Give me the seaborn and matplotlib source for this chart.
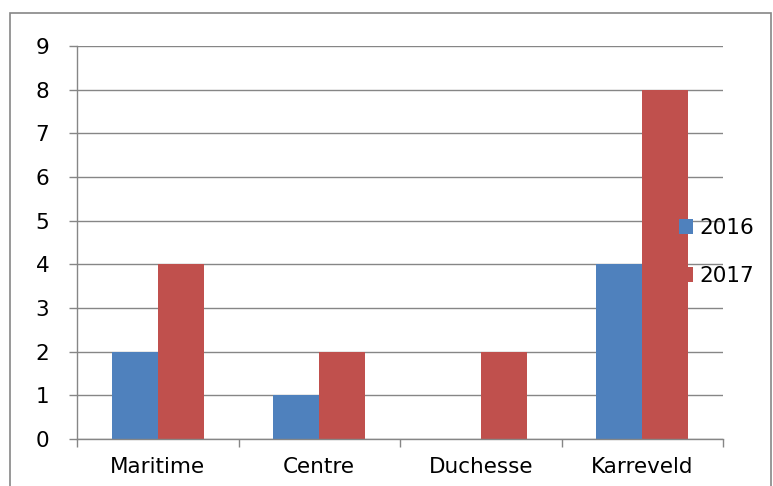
import pandas as pd
import matplotlib
matplotlib.use("Agg")
import matplotlib.pyplot as plt
import matplotlib.patches as patches
import seaborn as sns

# chart values
sites = ["Maritime", "Centre", "Duchesse", "Karreveld"]
years = ["2016", "2017"]
counts_2016 = [2, 1, 0, 4]
counts_2017 = [4, 2, 2, 8]
y_ticks = list(range(0, 10))

df = pd.DataFrame({
    "site": sites * 2,
    "year": [years[0]] * len(sites) + [years[1]] * len(sites),
    "count": counts_2016 + counts_2017,
})

sns.set_style("white")
plt.rcParams["font.family"] = ["DejaVu Sans"]
plt.rcParams["text.color"] = "black"
plt.rcParams["xtick.labelcolor"] = "black"
plt.rcParams["ytick.labelcolor"] = "black"

grid_col = "#868686"
fs = 15.5
fig = plt.figure(figsize=(7.73, 4.86), dpi=100)
ax = fig.add_axes([77 / 773, 47 / 486, 646 / 773, 393 / 486])

sns.barplot(data=df, x="site", y="count", hue="year",
            palette=["#4F81BD", "#C0504D"], width=0.57,
            linewidth=0, saturation=1, ax=ax)

ax.set_xlim(-0.5, len(sites) - 0.5)
ax.set_ylim(0, 9)
ax.set_yticks(y_ticks)
ax.yaxis.grid(True, color=grid_col, linewidth=1.0)
ax.set_axisbelow(True)
ax.set_xlabel("")
ax.set_ylabel("")

for side in ["top", "right"]:
    ax.spines[side].set_visible(False)
for side in ["left", "bottom"]:
    ax.spines[side].set_color(grid_col)
    ax.spines[side].set_linewidth(1.0)

# category boundary tick marks below the axis
ax.set_xticks([i - 0.5 for i in range(len(sites) + 1)], minor=True)
ax.tick_params(axis="x", which="major", length=0, labelsize=fs, pad=13,
               labelcolor="black")
ax.tick_params(axis="x", which="minor", length=6, color=grid_col, width=1.0,
               direction="out", bottom=True)
ax.tick_params(axis="y", length=6, color=grid_col, width=1.0, labelsize=fs,
               pad=14, left=True, direction="out", labelcolor="black")

leg = ax.legend(loc="center left", bbox_to_anchor=(670 / 773, 1 - 252 / 486),
                bbox_transform=fig.transFigure, frameon=False, fontsize=fs,
                handlelength=0.65, handleheight=0.65, handletextpad=0.3,
                labelspacing=1.3, borderaxespad=0)
for t in leg.get_texts():
    t.set_color("black")

# outer chart frame
frame = patches.Rectangle((10 / 773, -0.1), 761 / 773, 1.1 - 13 / 486,
                          transform=fig.transFigure, fill=False,
                          edgecolor=grid_col, linewidth=1.2, clip_on=False)
fig.patches.append(frame)

fig.savefig("out.png", dpi=100)
